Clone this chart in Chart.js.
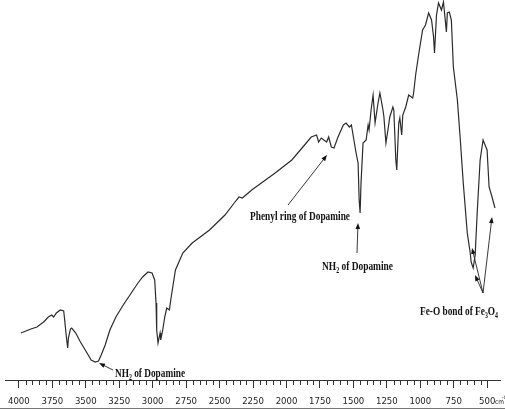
<!DOCTYPE html>
<html>
<head>
<meta charset="utf-8">
<script src="https://cdn.jsdelivr.net/npm/chart.js@4.4.0/dist/chart.umd.min.js"></script>
<style>
  html, body { margin: 0; padding: 0; background: #fff; }
  #wrap { width: 505px; height: 410px; }
</style>
</head>
<body>
<div id="wrap"><canvas id="ftir" width="505" height="410"></canvas></div>
<script>
// wavenumber (cm-1) and transmittance (arbitrary units)
const wavenumbers = [
  3985, 3910, 3865, 3815, 3780, 3755, 3740, 3720, 3690, 3665, 3660, 3645, 3635, 3630,
  3615, 3605, 3575, 3540, 3495, 3460, 3430, 3405, 3385, 3355, 3320, 3275, 3220, 3160,
  3110, 3075, 3035, 3005, 2985, 2975, 2970, 2960, 2945, 2940, 2925, 2910, 2895, 2875,
  2865, 2850, 2830, 2775, 2705, 2575, 2460, 2385, 2355, 2330, 2260, 2085, 1960, 1865,
  1815, 1775, 1760, 1740, 1700, 1685, 1665, 1645, 1615, 1575, 1555, 1530, 1515, 1500,
  1480, 1465, 1457, 1450, 1443, 1428, 1405, 1390, 1383, 1368, 1353, 1338, 1316, 1302,
  1279, 1272, 1257, 1242, 1228, 1205, 1198, 1183, 1176, 1161, 1153, 1139, 1131, 1109,
  1087, 1057, 1050, 1035, 1013, 983, 961, 938, 916, 901, 894, 879, 864, 842, 827, 805,
  798, 783, 768, 753, 723, 701, 679, 649, 627, 620, 605, 590, 575, 553, 531, 501, 486,
  464, 442
];
const transmittance = [
  47, 51, 53, 58, 63, 65, 63, 67, 70, 69, 63, 43, 32, 42,
  51, 52, 47, 38, 28, 20, 18, 19, 25, 35, 50, 63, 75, 87,
  97, 103, 108, 107, 100, 77, 50, 37, 47, 40, 50, 63, 72, 70,
  80, 93, 110, 127, 137, 150, 165, 178, 183, 182, 190, 207, 220, 235,
  243, 245, 238, 242, 238, 243, 233, 232, 243, 255, 257, 253, 255, 243,
  227, 217, 180, 167, 197, 237, 240, 255, 250, 270, 285, 257, 277, 287,
  270, 263, 237, 250, 263, 273, 270, 220, 210, 257, 262, 245, 265, 273,
  285, 282, 287, 305, 325, 350, 355, 367, 360, 343, 327, 365, 377, 370, 378, 348,
  367, 368, 360, 313, 280, 240, 197, 147, 127, 118, 112, 125, 167, 220, 240, 230, 193,
  183, 172
];
const majorTicks = [4000, 3750, 3500, 3250, 3000, 2750, 2500, 2250, 2000, 1750, 1500, 1250, 1000, 750, 500];
const minorStep = 50;

const notes = [
  { parts: [['NH', 0], ['2', 1], [' of Dopamine', 0]], x: 115, y: 374, w: 70,
    arrows: [[113, 370, 99, 363]] },
  { parts: [['Phenyl ring of Dopamine', 0]], x: 250, y: 217, w: 100,
    arrows: [[288, 205, 327, 155]] },
  { parts: [['NH', 0], ['2', 1], [' of Dopamine', 0]], x: 322, y: 267, w: 71,
    arrows: [[357, 253, 358, 223]] },
  { parts: [['Fe-O bond of Fe', 0], ['3', 1], ['O', 0], ['4', 1]], x: 420, y: 312, w: 78,
    arrows: [[483, 293, 472, 248], [483, 293, 475, 275], [483, 293, 492, 217]] }
];

const serif = '"Liberation Serif", "Times New Roman", serif';
const narrow = '"Liberation Sans Narrow", "Arial Narrow", "DejaVu Sans Condensed", "Liberation Sans", sans-serif';

function drawArrow(ctx, x1, y1, x2, y2) {
  const a = Math.atan2(y2 - y1, x2 - x1);
  const len = 6, half = 2.3;
  ctx.beginPath();
  ctx.moveTo(x1, y1);
  ctx.lineTo(x2 - Math.cos(a) * len * 0.8, y2 - Math.sin(a) * len * 0.8);
  ctx.stroke();
  ctx.beginPath();
  ctx.moveTo(x2, y2);
  ctx.lineTo(x2 - Math.cos(a) * len - Math.sin(a) * half, y2 - Math.sin(a) * len + Math.cos(a) * half);
  ctx.lineTo(x2 - Math.cos(a) * len + Math.sin(a) * half, y2 - Math.sin(a) * len - Math.cos(a) * half);
  ctx.closePath();
  ctx.fill();
}

function drawNote(ctx, note) {
  const fonts = ['bold 13.5px ' + serif, 'bold 8.5px ' + serif];
  let natural = 0;
  note.parts.forEach(p => { ctx.font = fonts[p[1]]; natural += ctx.measureText(p[0]).width; });
  ctx.save();
  ctx.translate(note.x, note.y);
  ctx.scale(note.w / natural, 1);
  ctx.textBaseline = 'middle';
  ctx.textAlign = 'left';
  let cx = 0;
  note.parts.forEach(p => {
    ctx.font = fonts[p[1]];
    ctx.fillText(p[0], cx, p[1] ? 3.5 : 0);
    cx += ctx.measureText(p[0]).width;
  });
  ctx.restore();
  note.arrows.forEach(a => drawArrow(ctx, a[0], a[1], a[2], a[3]));
}

const extras = {
  id: 'extras',
  afterDraw(chart) {
    const ctx = chart.ctx;
    const xs = chart.scales.x;
    const top = xs.top;
    ctx.save();
    ctx.strokeStyle = '#333';
    ctx.lineWidth = 1;
    // minor ticks
    ctx.beginPath();
    for (let w = 500; w <= 4000; w += minorStep) {
      if (w % 250 === 0) continue;
      const px = Math.round(xs.getPixelForValue(w)) + 0.5;
      ctx.moveTo(px, top);
      ctx.lineTo(px, top + 5);
    }
    // axis line runs a little past 4000
    ctx.moveTo(5, top + 0.5);
    ctx.lineTo(chart.chartArea.left, top + 0.5);
    ctx.stroke();
    // frame line at the bottom
    ctx.strokeStyle = '#777';
    ctx.beginPath();
    ctx.moveTo(0, 408.5);
    ctx.lineTo(505, 408.5);
    ctx.stroke();
    // unit after the last label
    ctx.fillStyle = '#222';
    ctx.textBaseline = 'middle';
    ctx.font = '6.5px ' + narrow;
    ctx.fillText('cm', 495, 402);
    ctx.font = '4.5px ' + narrow;
    ctx.fillText('-1', 502, 398);
    // annotations
    ctx.fillStyle = '#111';
    ctx.strokeStyle = '#222';
    ctx.lineWidth = 0.9;
    notes.forEach(n => drawNote(ctx, n));
    ctx.restore();
  }
};

new Chart(document.getElementById('ftir'), {
  type: 'line',
  data: {
    labels: wavenumbers,
    datasets: [{
      data: wavenumbers.map((w, i) => ({ x: w, y: transmittance[i] })),
      borderColor: '#2b2b2b',
      borderWidth: 1.2,
      pointRadius: 0,
      tension: 0,
      fill: false
    }]
  },
  options: {
    responsive: false,
    animation: false,
    devicePixelRatio: 1,
    layout: { padding: { left: 15, right: 4.4, top: 0, bottom: 0 } },
    plugins: { legend: { display: false }, tooltip: { enabled: false } },
    scales: {
      x: {
        type: 'linear',
        reverse: true,
        min: 400,
        max: 4000,
        afterBuildTicks: s => { s.ticks = majorTicks.map(v => ({ value: v })); },
        afterFit: s => { s.height = 30; },
        grid: { display: true, drawOnChartArea: false, drawTicks: true, tickLength: 8, color: '#333', lineWidth: 1 },
        border: { display: true, color: '#333', width: 1 },
        ticks: {
          autoSkip: false,
          maxRotation: 0,
          padding: 8,
          color: '#222',
          font: { family: narrow, size: 9.5 },
          callback: v => String(v)
        }
      },
      y: {
        display: false,
        min: 0,
        max: 380
      }
    }
  },
  plugins: [extras]
});
</script>
</body>
</html>
